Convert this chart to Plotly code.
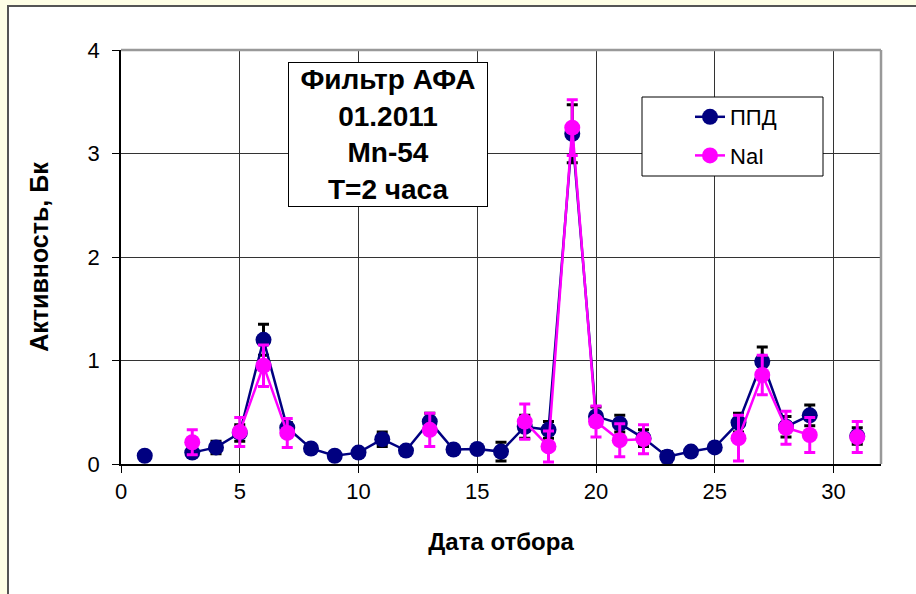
import plotly.graph_objects as go

days = list(range(1, 32))
ppd = [0.08, None, 0.11, 0.16, 0.30, 1.20, 0.35, 0.15, 0.08, 0.11, 0.24, 0.13, 0.41, 0.14, 0.145,
       0.12, 0.36, 0.33, 3.19, 0.46, 0.39, 0.25, 0.07, 0.12, 0.16, 0.40, 0.99, 0.36, 0.47, None, 0.27]
ppd_err = [0.03, None, 0.03, 0.06, 0.08, 0.15, 0.05, 0.03, 0.03, 0.03, 0.07, 0.03, 0.08, 0.03, 0.03,
           0.09, 0.11, 0.08, 0.28, 0.09, 0.08, 0.08, 0.05, 0.03, 0.04, 0.09, 0.14, 0.10, 0.10, None, 0.08]
nai = [None, None, 0.21, None, 0.31, 0.95, 0.30, None, None, None, None, None, 0.33, None, None,
       None, 0.41, 0.17, 3.25, 0.41, 0.23, 0.24, None, None, None, 0.25, 0.86, 0.35, 0.28, None, 0.26]
nai_err = [None, None, 0.12, None, 0.14, 0.20, 0.14, None, None, None, None, None, 0.16, None, None,
           None, 0.17, 0.15, 0.27, 0.15, 0.16, 0.14, None, None, None, 0.22, 0.19, 0.16, 0.17, None, 0.15]

x_ticks = [0, 5, 10, 15, 20, 25, 30]
y_ticks = [0, 1, 2, 3, 4]

NAVY = "#000080"
MAG = "#FF00FF"
FONT = "Liberation Sans, Arial, sans-serif"

fig = go.Figure()
fig.add_trace(go.Scatter(
    x=days, y=ppd, name="ППД", mode="lines+markers", connectgaps=False,
    line=dict(color=NAVY, width=2.5),
    marker=dict(color=NAVY, size=16),
    error_y=dict(type="data", array=ppd_err, visible=True, color="black", thickness=3, width=5.5),
    legendgroup="a",
))
fig.add_trace(go.Scatter(
    x=days, y=nai, name="NaI", mode="lines+markers", connectgaps=False,
    line=dict(color=MAG, width=2.5),
    marker=dict(color=MAG, size=16),
    error_y=dict(type="data", array=nai_err, visible=True, color=MAG, thickness=3, width=5.5),
    legendgroup="b",
))

L, R, T, B = 121, 35, 50, 130
W, H = 916, 594
pw, ph = W - L - R, H - T - B


def px_x(p):
    return (p - L) / pw


def px_y(p):
    return (H - B - p) / ph


shapes = [
    dict(type="rect", xref="paper", yref="paper",
         x0=px_x(8), x1=1.2, y0=-0.5, y1=px_y(6),
         fillcolor="white", line=dict(color="#555555", width=2), layer="below"),
    dict(type="line", xref="paper", yref="paper", x0=0, x1=1, y0=1, y1=1,
         line=dict(color="#999999", width=2.5)),
    dict(type="line", xref="paper", yref="paper", x0=1, x1=1, y0=0, y1=1,
         line=dict(color="#999999", width=2.5)),
    # legend frame
    dict(type="rect", xref="paper", yref="paper",
         x0=px_x(642), x1=px_x(823), y0=px_y(176), y1=px_y(97),
         fillcolor="white", line=dict(color="black", width=1), layer="above"),
]

fig.update_layout(
    width=W, height=H,
    margin=dict(l=L, r=R, t=T, b=B),
    paper_bgcolor="#FFFFE6",
    plot_bgcolor="white",
    font=dict(family=FONT, color="black"),
    shapes=shapes,
    showlegend=True,
    legend=dict(
        x=px_x(690), y=px_y(96), xanchor="left", yanchor="top",
        bgcolor="rgba(0,0,0,0)", borderwidth=0,
        font=dict(size=22, family=FONT),
        traceorder="grouped", tracegroupgap=7,
    ),
    annotations=[dict(
        xref="paper", yref="paper",
        x=px_x(388), y=px_y(134.5),
        xanchor="center", yanchor="middle",
        text="<b>Фильтр АФА<br>01.2011<br>Mn-54<br>T=2 часа</b>",
        showarrow=False, align="center",
        width=196, height=141,
        font=dict(size=28, family=FONT),
        bgcolor="white", bordercolor="black", borderwidth=1, borderpad=1,
    )],
)

fig.update_xaxes(
    range=[0, 32], tickvals=x_ticks, ticktext=[str(v) for v in x_ticks],
    showgrid=True, gridcolor="#333333", gridwidth=1,
    showline=True, linecolor="black", linewidth=1.5,
    ticks="outside", ticklen=7, tickcolor="black",
    tickfont=dict(size=22, family="Liberation Sans Narrow, Arial Narrow, Liberation Sans, sans-serif"),
    title=dict(text="<b>Дата отбора</b>", standoff=30,
               font=dict(size=24, family="Liberation Sans Narrow, Arial Narrow, Liberation Sans, sans-serif")),
    zeroline=False,
)
fig.update_yaxes(
    range=[0, 4], tickvals=y_ticks, ticktext=[str(v) for v in y_ticks],
    showgrid=True, gridcolor="#333333", gridwidth=1,
    showline=True, linecolor="black", linewidth=1.5,
    ticks="outside", ticklen=7, tickcolor="black",
    ticklabelstandoff=8,
    tickfont=dict(size=22),
    title=dict(text="<b>Активность, Бк</b>", standoff=32, font=dict(size=25)),
    zeroline=False,
)

fig.write_html("out.html")
